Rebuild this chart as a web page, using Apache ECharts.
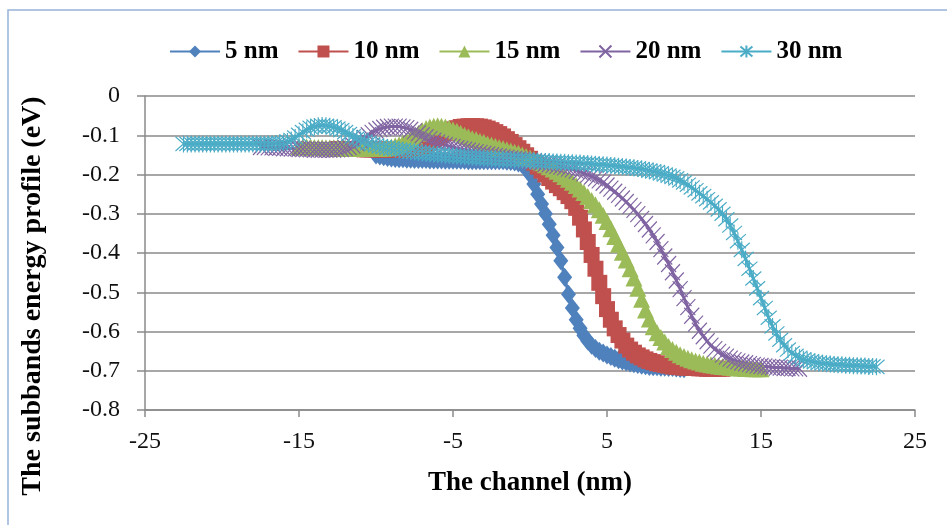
<!DOCTYPE html>
<html>
<head>
<meta charset="utf-8">
<script src="https://cdn.jsdelivr.net/npm/echarts@6/dist/echarts.min.js"></script>
<style>
  html, body { margin: 0; padding: 0; background: #fff; }
  #chart { width: 947px; height: 525px; }
</style>
</head>
<body>
<div id="chart"></div>
<script>
// channel positions (nm), 0.25 nm apart, shared by all series
const channel = [
  -22.5, -22.25, -22, -21.75, -21.5, -21.25, -21, -20.75, -20.5, -20.25, -20, -19.75,
  -19.5, -19.25, -19, -18.75, -18.5, -18.25, -18, -17.75, -17.5, -17.25, -17, -16.75,
  -16.5, -16.25, -16, -15.75, -15.5, -15.25, -15, -14.75, -14.5, -14.25, -14, -13.75,
  -13.5, -13.25, -13, -12.75, -12.5, -12.25, -12, -11.75, -11.5, -11.25, -11, -10.75,
  -10.5, -10.25, -10, -9.75, -9.5, -9.25, -9, -8.75, -8.5, -8.25, -8, -7.75,
  -7.5, -7.25, -7, -6.75, -6.5, -6.25, -6, -5.75, -5.5, -5.25, -5, -4.75,
  -4.5, -4.25, -4, -3.75, -3.5, -3.25, -3, -2.75, -2.5, -2.25, -2, -1.75,
  -1.5, -1.25, -1, -0.75, -0.5, -0.25, 0, 0.25, 0.5, 0.75, 1, 1.25,
  1.5, 1.75, 2, 2.25, 2.5, 2.75, 3, 3.25, 3.5, 3.75, 4, 4.25,
  4.5, 4.75, 5, 5.25, 5.5, 5.75, 6, 6.25, 6.5, 6.75, 7, 7.25,
  7.5, 7.75, 8, 8.25, 8.5, 8.75, 9, 9.25, 9.5, 9.75, 10, 10.25,
  10.5, 10.75, 11, 11.25, 11.5, 11.75, 12, 12.25, 12.5, 12.75, 13, 13.25,
  13.5, 13.75, 14, 14.25, 14.5, 14.75, 15, 15.25, 15.5, 15.75, 16, 16.25,
  16.5, 16.75, 17, 17.25, 17.5, 17.75, 18, 18.25, 18.5, 18.75, 19, 19.25,
  19.5, 19.75, 20, 20.25, 20.5, 20.75, 21, 21.25, 21.5, 21.75, 22, 22.25,
  22.5];

const seriesNames = ['5 nm', '10 nm', '15 nm', '20 nm', '30 nm'];
const seriesStart = [-10, -12.5, -15, -17.5, -22.5];

// subband energy (eV), one value per channel position from the series start
const energy5 = [
  -0.150, -0.153, -0.155, -0.157, -0.158, -0.159, -0.160, -0.160, -0.161, -0.161,
  -0.162, -0.162, -0.162, -0.162, -0.163, -0.163, -0.163, -0.163, -0.164, -0.164,
  -0.164, -0.164, -0.164, -0.164, -0.165, -0.165, -0.165, -0.165, -0.165, -0.165,
  -0.165, -0.165, -0.165, -0.165, -0.166, -0.167, -0.168, -0.171, -0.175, -0.185,
  -0.200, -0.224, -0.250, -0.275, -0.300, -0.327, -0.355, -0.386, -0.420, -0.462,
  -0.505, -0.540, -0.570, -0.592, -0.610, -0.624, -0.635, -0.643, -0.650, -0.655,
  -0.660, -0.664, -0.668, -0.672, -0.675, -0.678, -0.680, -0.682, -0.684, -0.686,
  -0.687, -0.689, -0.690, -0.690, -0.691, -0.691, -0.692, -0.692, -0.693, -0.694,
  -0.695];

const energy10 = [
  -0.135, -0.135, -0.135, -0.135, -0.135, -0.135, -0.135, -0.136, -0.136, -0.136,
  -0.136, -0.137, -0.137, -0.137, -0.137, -0.137, -0.137, -0.137, -0.136, -0.135,
  -0.133, -0.130, -0.127, -0.123, -0.118, -0.112, -0.106, -0.100, -0.094, -0.089,
  -0.085, -0.082, -0.079, -0.078, -0.077, -0.077, -0.077, -0.078, -0.080, -0.083,
  -0.087, -0.092, -0.097, -0.103, -0.110, -0.117, -0.125, -0.133, -0.142, -0.151,
  -0.160, -0.170, -0.180, -0.190, -0.200, -0.209, -0.218, -0.227, -0.235, -0.245,
  -0.255, -0.268, -0.285, -0.310, -0.340, -0.372, -0.405, -0.440, -0.476, -0.510,
  -0.543, -0.570, -0.592, -0.609, -0.623, -0.636, -0.646, -0.654, -0.661, -0.666,
  -0.671, -0.675, -0.678, -0.681, -0.683, -0.685, -0.687, -0.689, -0.690, -0.691,
  -0.692, -0.692, -0.693, -0.693, -0.694, -0.694, -0.695, -0.695, -0.695, -0.695,
  -0.695];

const energy15 = [
  -0.130, -0.130, -0.130, -0.130, -0.131, -0.131, -0.131, -0.132, -0.132, -0.132,
  -0.132, -0.133, -0.133, -0.133, -0.133, -0.134, -0.134, -0.134, -0.134, -0.134,
  -0.134, -0.134, -0.133, -0.132, -0.130, -0.127, -0.124, -0.120, -0.115, -0.109,
  -0.102, -0.095, -0.088, -0.083, -0.079, -0.077, -0.076, -0.077, -0.079, -0.082,
  -0.086, -0.090, -0.095, -0.100, -0.104, -0.108, -0.111, -0.115, -0.118, -0.122,
  -0.125, -0.128, -0.131, -0.134, -0.137, -0.140, -0.143, -0.146, -0.150, -0.154,
  -0.158, -0.162, -0.166, -0.170, -0.175, -0.180, -0.186, -0.192, -0.198, -0.205,
  -0.212, -0.220, -0.228, -0.237, -0.246, -0.256, -0.266, -0.277, -0.290, -0.304,
  -0.320, -0.338, -0.358, -0.378, -0.398, -0.418, -0.440, -0.464, -0.490, -0.518,
  -0.545, -0.568, -0.588, -0.603, -0.615, -0.627, -0.638, -0.646, -0.653, -0.659,
  -0.664, -0.668, -0.672, -0.675, -0.678, -0.681, -0.683, -0.685, -0.686, -0.688,
  -0.689, -0.690, -0.691, -0.692, -0.693, -0.693, -0.694, -0.694, -0.695, -0.695,
  -0.695];

const energy20 = [
  -0.130, -0.130, -0.131, -0.131, -0.132, -0.132, -0.133, -0.133, -0.134, -0.134,
  -0.135, -0.135, -0.136, -0.136, -0.137, -0.137, -0.137, -0.137, -0.137, -0.137,
  -0.136, -0.135, -0.133, -0.130, -0.126, -0.120, -0.114, -0.107, -0.100, -0.094,
  -0.088, -0.084, -0.081, -0.079, -0.078, -0.078, -0.078, -0.080, -0.082, -0.086,
  -0.090, -0.095, -0.100, -0.105, -0.110, -0.114, -0.118, -0.122, -0.125, -0.128,
  -0.130, -0.133, -0.135, -0.137, -0.139, -0.141, -0.143, -0.145, -0.147, -0.149,
  -0.151, -0.153, -0.154, -0.156, -0.157, -0.159, -0.160, -0.161, -0.162, -0.164,
  -0.165, -0.167, -0.168, -0.170, -0.172, -0.174, -0.176, -0.178, -0.180, -0.182,
  -0.185, -0.187, -0.190, -0.193, -0.197, -0.201, -0.205, -0.210, -0.215, -0.221,
  -0.228, -0.236, -0.244, -0.252, -0.261, -0.270, -0.280, -0.290, -0.301, -0.313,
  -0.326, -0.340, -0.355, -0.372, -0.390, -0.409, -0.428, -0.449, -0.470, -0.492,
  -0.515, -0.538, -0.560, -0.580, -0.598, -0.612, -0.625, -0.636, -0.645, -0.652,
  -0.659, -0.664, -0.669, -0.673, -0.676, -0.679, -0.681, -0.683, -0.685, -0.687,
  -0.688, -0.689, -0.690, -0.691, -0.692, -0.692, -0.693, -0.693, -0.694, -0.694,
  -0.695];

const energy30 = [
  -0.122, -0.122, -0.122, -0.122, -0.122, -0.122, -0.122, -0.122, -0.122, -0.122,
  -0.122, -0.122, -0.122, -0.122, -0.122, -0.122, -0.122, -0.122, -0.122, -0.122,
  -0.122, -0.122, -0.122, -0.122, -0.121, -0.120, -0.119, -0.116, -0.112, -0.106,
  -0.099, -0.092, -0.086, -0.081, -0.078, -0.076, -0.075, -0.076, -0.077, -0.080,
  -0.083, -0.087, -0.092, -0.097, -0.103, -0.108, -0.112, -0.116, -0.120, -0.123,
  -0.126, -0.128, -0.130, -0.132, -0.134, -0.135, -0.137, -0.138, -0.140, -0.141,
  -0.142, -0.144, -0.145, -0.146, -0.147, -0.148, -0.149, -0.150, -0.151, -0.151,
  -0.152, -0.153, -0.154, -0.154, -0.155, -0.156, -0.157, -0.157, -0.158, -0.159,
  -0.160, -0.160, -0.161, -0.161, -0.162, -0.162, -0.163, -0.163, -0.164, -0.164,
  -0.165, -0.165, -0.166, -0.166, -0.167, -0.167, -0.168, -0.168, -0.169, -0.169,
  -0.170, -0.170, -0.171, -0.171, -0.172, -0.172, -0.173, -0.174, -0.175, -0.175,
  -0.176, -0.177, -0.178, -0.179, -0.180, -0.181, -0.182, -0.183, -0.185, -0.186,
  -0.188, -0.190, -0.192, -0.194, -0.197, -0.200, -0.203, -0.206, -0.210, -0.215,
  -0.220, -0.226, -0.233, -0.240, -0.248, -0.255, -0.263, -0.271, -0.280, -0.289,
  -0.300, -0.314, -0.330, -0.349, -0.370, -0.392, -0.415, -0.440, -0.465, -0.490,
  -0.515, -0.540, -0.565, -0.587, -0.605, -0.621, -0.635, -0.646, -0.655, -0.662,
  -0.667, -0.671, -0.674, -0.676, -0.678, -0.680, -0.681, -0.682, -0.683, -0.684,
  -0.685, -0.685, -0.686, -0.686, -0.687, -0.687, -0.688, -0.688, -0.689, -0.689,
  -0.690];

const energies = [energy5, energy10, energy15, energy20, energy30];

const colors = ['#4F81BD', '#C0504D', '#9BBB59', '#8064A2', '#4BACC6'];
const symbols = [
  'diamond',
  'rect',
  'triangle',
  'path://M0,0L10,10M10,0L0,10',
  'path://M0,0L10,10M10,0L0,10M5,-1L5,11'
];
const symbolSizes = [[15, 19], [16, 16], [17, 17], [15, 16], [16, 17]];

function pairs(start, ys) {
  const i0 = channel.indexOf(start);
  return ys.map((y, i) => [channel[i0 + i], y]);
}

const serifFont = '"Liberation Serif", "Times New Roman", serif';

const chart = echarts.init(document.getElementById('chart'), null, { renderer: 'canvas' });

const series = seriesNames.map((name, k) => {
  const isStroke = k >= 3;
  return {
    name: name,
    type: 'line',
    data: pairs(seriesStart[k], energies[k]),
    symbol: symbols[k],
    symbolSize: symbolSizes[k],
    showAllSymbol: true,
    lineStyle: { color: colors[k], width: 3 },
    itemStyle: {
      color: colors[k],
      borderColor: colors[k],
      borderWidth: isStroke ? 1.2 : 0
    },
    emphasis: { disabled: true },
    animation: false
  };
});

chart.setOption({
  backgroundColor: '#fff',
  animation: false,
  color: colors,
  graphic: [{
    type: 'rect',
    shape: { x: 8, y: 10, width: 1000, height: 600 },
    style: { fill: 'none', stroke: '#95b3d7', lineWidth: 1.5 },
    silent: true,
    z: -10
  }],
  legend: {
    data: seriesNames,
    left: 164,
    top: 34,
    itemWidth: 50,
    itemHeight: 15,
    itemGap: 19,
    textStyle: { fontFamily: serifFont, fontWeight: 'bold', fontSize: 25, color: '#000' }
  },
  grid: { left: 145, right: 32, top: 96, bottom: 115 },
  xAxis: {
    type: 'value',
    min: -25,
    max: 25,
    interval: 10,
    name: 'The channel (nm)',
    nameLocation: 'middle',
    nameGap: 60,
    nameTextStyle: { fontFamily: serifFont, fontWeight: 'bold', fontSize: 27, color: '#000' },
    axisLine: { onZero: false, lineStyle: { color: '#8a8a8a', width: 1.5 } },
    axisTick: { show: true, length: 7, lineStyle: { color: '#8a8a8a', width: 1.5 } },
    axisLabel: { fontFamily: serifFont, fontSize: 24, color: '#111', margin: 20 },
    splitLine: { show: false }
  },
  yAxis: {
    type: 'value',
    min: -0.8,
    max: 0,
    interval: 0.1,
    name: 'The subbands energy profile (eV)',
    nameLocation: 'middle',
    nameGap: 98,
    nameTextStyle: {
      fontFamily: serifFont, fontWeight: 'bold', fontSize: 28, color: '#000',
      padding: [0, 86, 0, 0]
    },
    axisLine: { show: true, onZero: false, lineStyle: { color: '#8a8a8a', width: 1.5 } },
    axisTick: { show: true, length: 8, lineStyle: { color: '#8a8a8a', width: 1.5 } },
    axisLabel: { fontFamily: serifFont, fontSize: 24, color: '#111', margin: 25 },
    splitLine: { show: true, lineStyle: { color: '#8a8a8a', width: 1.5 } }
  },
  series: series
});
</script>
</body>
</html>
